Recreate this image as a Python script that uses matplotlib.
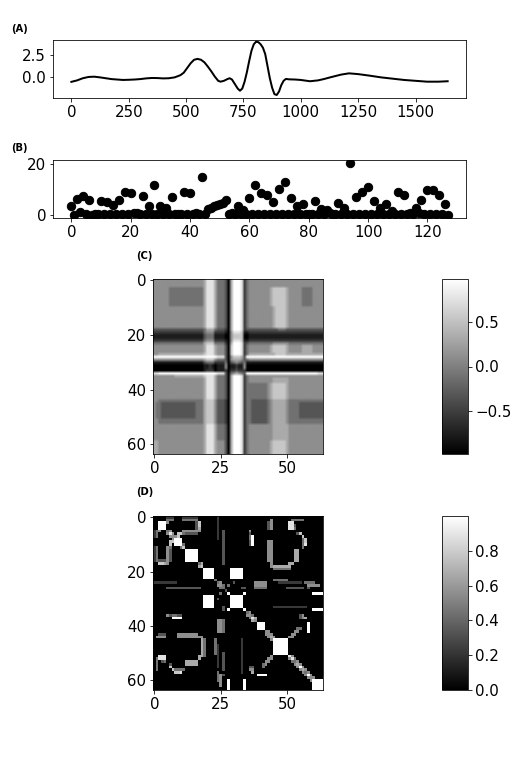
import numpy as np
import matplotlib
matplotlib.use("Agg")
import matplotlib.pyplot as plt

# panel A signal
signal_x = [0, 25, 50, 75, 100, 125, 150, 175, 200, 225, 250, 275, 300, 325, 350, 375, 400, 425, 450,
            475, 490, 505, 520, 535, 550, 565, 580, 595, 610, 625, 640, 650, 665, 680, 690, 700, 712, 725,
            735, 745, 755, 765, 775, 785, 795, 805, 815, 825, 835, 845, 855, 865, 875, 885, 895, 905, 915,
            925, 935, 950, 975, 1000, 1040, 1075, 1100, 1125, 1150, 1175, 1210, 1250, 1300, 1350, 1400,
            1450, 1500, 1550, 1600, 1640]
signal_y = [-0.62, -0.45, -0.2, -0.05, -0.02, -0.1, -0.2, -0.3, -0.35, -0.4, -0.38, -0.35, -0.3, -0.22,
            -0.17, -0.18, -0.22, -0.2, -0.1, 0.15, 0.45, 1.0, 1.55, 1.95, 2.05, 1.95, 1.65, 1.15, 0.6, 0.0,
            -0.5, -0.6, -0.5, -0.3, -0.2, -0.35, -0.85, -1.4, -1.65, -1.4, -0.6, 0.5, 1.8, 3.0, 3.75, 4.05,
            4.0, 3.75, 3.35, 2.6, 1.2, -0.2, -1.3, -2.05, -2.15, -1.75, -1.0, -0.5, -0.28, -0.33, -0.35,
            -0.4, -0.55, -0.45, -0.3, -0.12, 0.05, 0.22, 0.37, 0.28, 0.1, -0.1, -0.25, -0.4, -0.5, -0.6,
            -0.6, -0.55]

# panel B points, index 0..127
points_b = [3.5, 0.3, 6.5, 1.2, 7.5, 0.5, 6.0, 0.3, 0.5, 0.4, 5.5, 0.5, 5.2, 0.6, 4.0, 0.4,
            6.0, 0.5, 9.3, 0.7, 8.8, 0.8, 1.0, 0.5, 7.5, 0.4, 3.5, 0.4, 12.0, 0.5, 3.5, 0.6,
            2.8, 0.5, 7.0, 0.5, 0.5, 0.4, 9.3, 0.7, 8.8, 0.5, 0.8, 0.4, 14.8, 0.5, 2.5, 3.0,
            3.8, 4.0, 4.5, 5.0, 6.0, 0.7, 1.0, 0.5, 3.5, 0.6, 2.3, 0.5, 6.7, 0.5, 11.8, 0.5,
            8.8, 0.7, 8.0, 0.6, 5.3, 0.5, 10.2, 0.4, 13.0, 0.4, 6.8, 0.5, 3.8, 0.4, 4.5, 0.5,
            0.6, 0.4, 5.6, 0.4, 2.5, 0.6, 2.2, 1.0, 0.7, 0.4, 4.9, 0.4, 3.0, 0.7, 20.5, 0.6,
            7.0, 0.5, 9.0, 0.5, 11.2, 0.5, 5.7, 0.5, 3.0, 0.5, 4.5, 0.4, 1.8, 0.5, 9.0, 0.6,
            8.0, 0.4, 1.0, 0.6, 3.0, 1.0, 6.0, 0.7, 10.0, 0.6, 10.0, 0.7, 8.0, 0.7, 4.5, 0.3]

# panel C cells, grey level 0-9 per cell
cells_c = [
    "55555555 55555555 55568886 44430699 98245555 55555555 55555555 55555555",
    "55555555 55555555 55568886 44430699 98245555 55555555 55555555 55555555",
    "55555555 55555555 55568886 44430699 98245555 55555555 55555555 55555555",
    "55555544 44444444 44468886 44430699 98245555 55556777 77655555 44445555",
    "55555544 44444444 44468886 44430699 98245555 55556777 77655555 44445555",
    "55555544 44444444 44468886 44430699 98245555 55556777 77655555 44445555",
    "55555544 44444444 44468886 44430699 98245555 55556777 77655555 44445555",
    "55555544 44444444 44468886 44430699 98245555 55556777 77655555 44445555",
    "55555544 44444444 44468886 44430699 98245555 55556777 77655555 44445555",
    "55555544 44444444 44468886 44430699 98245555 55556777 77655555 44445555",
    "55555555 55555555 55568886 44430699 98245555 55555677 77655555 55555555",
    "55555555 55555555 55568886 44430699 98245555 55555677 77655555 55555555",
    "55555555 55555555 55568886 44430699 98245555 55555677 77655555 55555555",
    "55555555 55555555 55568886 44430699 98245555 55555677 77655555 55555555",
    "55555555 55555555 55568886 44430699 98245555 55555677 77655555 55555555",
    "55555555 55555555 55568886 44430699 98245555 55555677 77655555 55555555",
    "55555555 55555555 55568886 44430699 98245555 55555677 77655555 55555555",
    "55555555 55555555 55568886 44430699 98245555 55555677 77655555 55555555",
    "33333333 33333333 33346664 33320699 98233333 33333334 44333333 33333333",
    "22222222 22222222 22245552 22210588 87112222 22222222 22222222 22222222",
    "11111111 11111111 11134441 11100577 77001111 11111111 11111111 11111111",
    "11111111 11111111 11134441 11100577 77001111 11111111 11111111 11111111",
    "22222222 22222222 22245552 22210588 87112222 22222222 22222222 22222222",
    "44444444 44444444 44467774 44420699 98234444 44444555 55544444 44444444",
    "55555555 55555555 55568886 55530799 98245555 55556777 77655555 66665555",
    "55555555 55555555 55568886 55530799 98245555 55556777 77655555 66665555",
    "55555555 55555555 55568886 55530799 98245555 55556777 77655555 66665555",
    "55666666 66666666 66678886 55530799 98246666 66666677 77666666 66666666",
    "99999999 99999999 99999999 88830577 76399999 99999999 99999999 99999999",
    "55555555 55555555 55567775 44430566 65345555 55555555 55555555 55555555",
    "11111111 11111111 11134442 22240345 43411111 11111111 11111111 11111111",
    "00000000 00000000 00011210 11150112 11500000 00000000 00000000 00000000",
    "00000000 00000000 00011210 11150112 11500000 00000000 00000000 00000000",
    "00000000 00000000 00012220 11120223 22200000 00000000 00000000 00000000",
    "88999999 99999999 99999999 88830456 54399999 99999999 99999999 99999988",
    "55555555 66666666 66678886 44430699 98245555 55555555 55555555 55555555",
    "55555555 55555555 55568886 44430699 98245555 55555666 66655555 55555555",
    "55555555 55555555 55568886 44430699 98245555 55555666 66655555 55555555",
    "55555555 55555555 55568886 44430699 98244444 44456777 77655555 55555555",
    "55555555 55555555 55568886 44430699 98244444 44456777 77655555 55555555",
    "55555555 55555555 55568886 44430699 98244444 44456777 77655555 55555555",
    "55555555 55555555 55568886 44430699 98244444 44456777 77655555 55555555",
    "55555555 55555555 55568886 44430699 98244444 44456777 77655555 55555555",
    "55555555 55555555 55568886 44430699 98244444 44456777 77655555 55555555",
    "55444444 44444444 44467775 33320699 98244333 33345666 66544444 44444444",
    "54433333 33333333 44467775 33320699 98244333 33345666 66544443 33333333",
    "54433333 33333333 44467775 33320699 98244333 33345666 66544443 33333333",
    "54433333 33333333 44467775 33320699 98244333 33345666 66544443 33333333",
    "54433333 33333333 44467775 33320699 98244333 33345666 66544443 33333333",
    "54433333 33333333 44467775 33320699 98244333 33345666 66544443 33333333",
    "54433333 33333333 44467775 33320699 98244333 33345666 66544443 33333333",
    "55444444 44444444 44467775 33320699 98244333 33345666 66544444 44444444",
    "55444444 44444444 44467775 33320699 98244333 33345666 66544444 44444444",
    "55555555 55555555 55568886 44430699 98245555 55555666 66655555 55555555",
    "55555555 55555555 55568886 44430699 98245555 55555666 66655555 55555555",
    "55555555 55555555 55568886 44430699 98245555 55555666 66655555 55555555",
    "55555555 55555555 55568886 44430699 98245555 55555666 66655555 55555555",
    "55555555 55555555 55568886 44430699 98245555 55555666 66655555 55555555",
    "55555555 55555555 55568886 44430699 98245555 55555666 66655555 55555555",
    "66555555 55555555 55568886 55530699 98245555 55556777 77655555 55555555",
    "66555555 55555555 55568886 55530699 98245555 55556777 77655555 55555555",
    "66555555 55555555 55568886 55530699 98245555 55556777 77655555 55555555",
    "66555555 55555555 55568886 55530699 98245555 55556777 77655555 55555555",
    "66555555 55555555 55568886 55530699 98245555 55556777 77655555 55555555",
]

# panel D upper triangle (matrix is symmetric), . = black
cells_d = [
    ".....222 ...22222 2....... 2....... ........ ........ ........ ........",
    ".....444 ...44444 4....... 2....... ........ ....5... ....4444 4.......",
    "..9995.. ........ 37...... 2....... ........ ...35... ...88... ........",
    "...99... ........ 37...... 2....... ........ ...35... ...883.. ........",
    "....9... ........ 36...... 2....... ........ ...35... ...884.. ........",
    ".....45. ...55555 55...... 2.3..... ....5... ........ ........ ........",
    "......85 .7743333 3....... 2.3..... ....3... ........ ......37 ........",
    ".......5 57...... ........ 2.3..... ....49.. ........ ........ 7.......",
    "........ 999..... ........ 2.3..... ....49.. ........ ........ 47......",
    "........ .99..... ........ ..3..... ....39.. ...55... ........ 47......",
    "........ ..94.... ........ ..3..... ....39.. ...55... ........ 48......",
    "........ ...7.... ........ ..3..... ........ ...55... ........ 4.......",
    "........ ....9999 9....... ..3..... ........ ...55... .....66. ........",
    "........ .....999 9....... ..3..... ........ ...55... .....66. ........",
    "........ ......99 9....... ..3..... ........ ...55... .....66. ........",
    "........ .......9 9....... ..3..... ........ ...55... .....66. ........",
    "........ ........ 9....... ..3..... ........ ...55... .....66. ........",
    "........ ........ .46..... ..3..... ........ ....5... ...66... ........",
    "........ ........ ..7..... ........ ........ ....5666 6666.... ........",
    "........ ........ ...9999. .....999 99...... .....444 4444.... ........",
    "........ ........ ....999. .....999 99...... ........ ........ ........",
    "........ ........ .....99. .....999 99...... ........ ........ ........",
    "........ ........ ......9. .....999 99...... ........ ........ ........",
    "........ ........ .......4 ........ ........ .....444 444..... ........",
    "........ ........ ........ 45....3. ......55 555....2 22222222 .4444...",
    "........ ........ ........ .54.4... ......55 555..... ........ ..55555.",
    "........ ........ ........ ..4..... .33...44 444..... ..333333 3.3.....",
    "........ ........ ........ ...3.... ........ ........ ........ ........",
    "........ ........ ........ ....9... ..9..... ........ ........ ....9999",
    "........ ........ ........ .....999 99...... ........ ........ ........",
    "........ ........ ........ ......99 99...... ........ ........ ........",
    "........ ........ ........ .......9 99...... ........ ........ ........",
    "........ ........ ........ ........ 99...... ........ ........ ........",
    "........ ........ ........ ........ .9...... .....222 22222222 22......",
    "........ ........ ........ ........ ..9..... ........ ........ ....9999",
    "........ ........ ........ ........ ...45... ........ ........ ........",
    "........ ........ ........ ........ ....54.. ........ .......3 5.......",
    "........ ........ ........ ........ .....86. ........ .......3 56......",
    "........ ........ ........ ........ ......5. ........ ........ ........",
    "........ ........ ........ ........ .......9 99...... ........ ..9.....",
    "........ ........ ........ ........ ........ 99...... ........ ..9.....",
    "........ ........ ........ ........ ........ .9...... ......44 ..9.....",
    "........ ........ ........ ........ ........ ..55.... .....55. ..9.....",
    "........ ........ ........ ........ ........ ...55... ....55.. ........",
    "........ ........ ........ ........ ........ ....65.. ...55... ........",
    "........ ........ ........ ........ ........ .....999 999..... ........",
    "........ ........ ........ ........ ........ ......99 999..... ........",
    "........ ........ ........ ........ ........ .......9 999..... ........",
    "........ ........ ........ ........ ........ ........ 999..... ........",
    "........ ........ ........ ........ ........ ........ .99..... ........",
    "........ ........ ........ ........ ........ ........ ..9..... ........",
    "........ ........ ........ ........ ........ ........ ...85... ........",
    "........ ........ ........ ........ ........ ........ ....84.. ........",
    "........ ........ ........ ........ ........ ........ .....45. ........",
    "........ ........ ........ ........ ........ ........ ......65 ........",
    "........ ........ ........ ........ ........ ........ .......9 5.......",
    "........ ........ ........ ........ ........ ........ ........ 65......",
    "........ ........ ........ ........ ........ ........ ........ .45.....",
    "........ ........ ........ ........ ........ ........ ........ ..95....",
    "........ ........ ........ ........ ........ ........ ........ ...55...",
    "........ ........ ........ ........ ........ ........ ........ ....9999",
    "........ ........ ........ ........ ........ ........ ........ .....999",
    "........ ........ ........ ........ ........ ........ ........ ......99",
    "........ ........ ........ ........ ........ ........ ........ .......9",
]


def to_levels(rows):
    return np.array([[0 if c == "." else int(c) for c in r.replace(" ", "")] for r in rows], dtype=float)


matrix_c = -0.98 + to_levels(cells_c) / 9 * 1.96
upper_d = to_levels(cells_d) / 9
matrix_d = np.maximum(upper_d, upper_d.T)

W, H = 518, 763
plt.rcParams["font.size"] = 15
fig = plt.figure(figsize=(W / 72, H / 72), dpi=72)


def add_ax(left, top, right, bottom):
    # box given in pixels from the top left of the picture
    return fig.add_axes([left / W, 1 - bottom / H, (right - left) / W, (bottom - top) / H])


ax_a = add_ax(53, 40, 466, 98)
ax_a.plot(signal_x, signal_y, color="black", linewidth=2)
ax_a.set_xlim(-80, 1720)
ax_a.set_ylim(-2.5, 4.25)
ax_a.set_xticks([0, 250, 500, 750, 1000, 1250, 1500])
ax_a.set_yticks([0, 2.5])
ax_a.set_yticklabels(["0.0", "2.5"])

ax_b = add_ax(53, 160, 466, 218)
ax_b.scatter(range(len(points_b)), points_b, color="black", s=70)
ax_b.set_xlim(-6.2, 133)
ax_b.set_ylim(-1, 21.6)
ax_b.set_xticks(range(0, 121, 20))
ax_b.set_yticks([0, 20])

ax_c = add_ax(153, 279, 323, 454)
im_c = ax_c.imshow(matrix_c, cmap="gray", vmin=-0.98, vmax=0.98, aspect="auto", interpolation="bilinear")
ax_c.set_xticks([0, 25, 50])
ax_c.set_yticks([0, 20, 40, 60])
cax_c = add_ax(442, 279, 468, 454)
fig.colorbar(im_c, cax=cax_c, ticks=[-0.5, 0, 0.5])

ax_d = add_ax(153, 516, 323, 690)
im_d = ax_d.imshow(matrix_d, cmap="gray", vmin=0, vmax=1, aspect="auto", interpolation="nearest")
ax_d.set_xticks([0, 25, 50])
ax_d.set_yticks([0, 20, 40, 60])
cax_d = add_ax(442, 516, 468, 690)
fig.colorbar(im_d, cax=cax_d, ticks=[0, 0.2, 0.4, 0.6, 0.8])

for label, x, y in [("(A)", 11, 29), ("(B)", 11, 148), ("(C)", 136, 256), ("(D)", 136, 492)]:
    fig.text(x / W, 1 - y / H, label, fontsize=10, fontweight="bold", va="center")

fig.savefig("out.png", dpi=72)
